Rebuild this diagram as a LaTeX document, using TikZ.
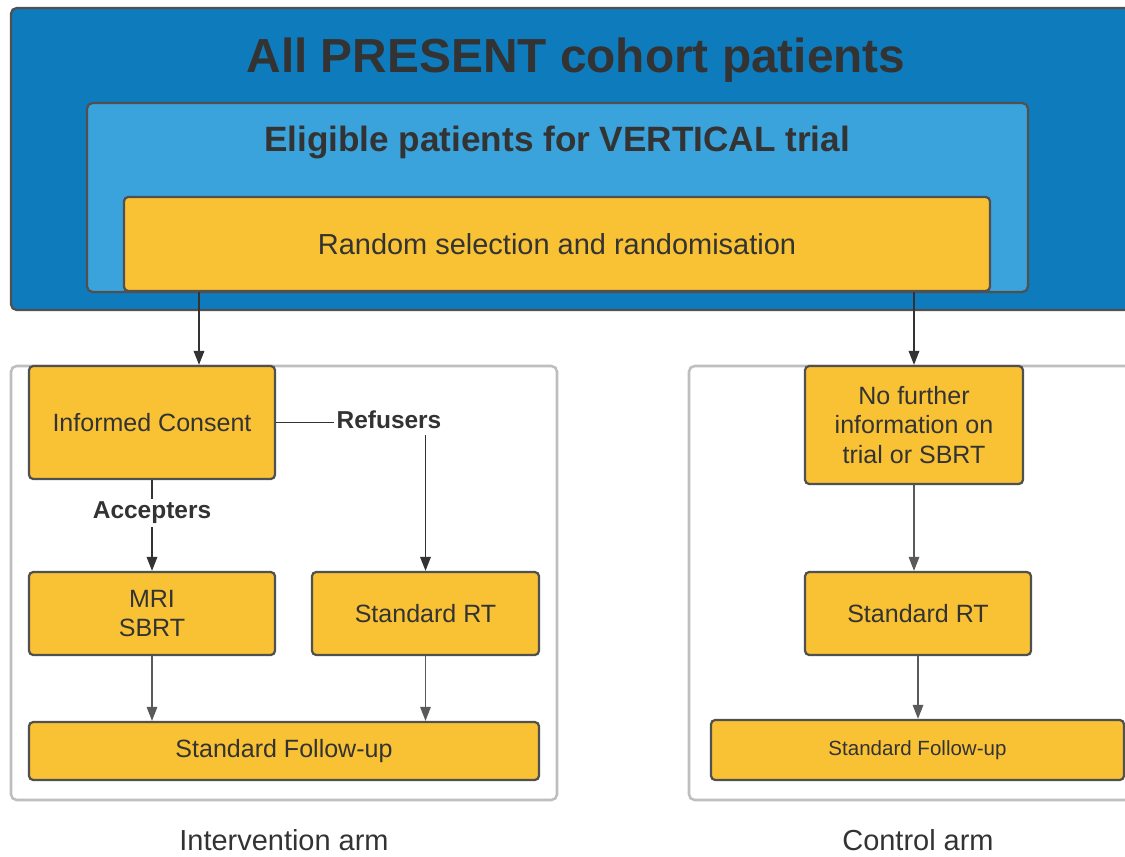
\documentclass[tikz,border=0pt]{standalone}
\usepackage{fontspec}
\setmainfont{Liberation Sans}
\usepackage{xcolor}
\usetikzlibrary{arrows.meta,positioning}

\definecolor{cohortblue}{RGB}{14,123,189}
\definecolor{eligblue}{RGB}{58,163,220}
\definecolor{boxyellow}{RGB}{249,194,52}
\definecolor{boxline}{RGB}{80,80,80}
\definecolor{armgray}{RGB}{190,190,190}
\definecolor{textgray}{RGB}{51,51,51}
\definecolor{arrowgray}{RGB}{90,90,90}

\begin{document}
\begin{tikzpicture}[x=0.025cm,y=-0.025cm,
	wh/.style 2 args={minimum width=#1*0.025cm,minimum height=#2*0.025cm},
	box/.style={draw=boxline,fill=boxyellow,line width=1.6pt,rounded corners=3pt,
		text=textgray,align=center,inner sep=0pt,font=\fontsize{17.8}{21}\selectfont},
	lbl/.style={text=textgray,font=\bfseries\fontsize{17.4}{21}\selectfont,inner sep=2pt},
	armlbl/.style={text=textgray,font=\fontsize{20.6}{24}\selectfont,inner sep=0pt},
	arm/.style={draw=armgray,line width=1.8pt,rounded corners=4pt},
	darr/.style={-{Triangle[length=10pt,width=7.5pt]},draw=textgray,line width=1.3pt},
	garr/.style={-{Triangle[length=10pt,width=7.5pt]},draw=arrowgray,line width=1.1pt}]
	\clip (0,0) rectangle (1125,856);
	
	% nested boxes on top
	\draw[fill=cohortblue,draw=boxline,line width=1.6pt,rounded corners=4pt] (11,8) rectangle (1145,310);
	\node[text=textgray,font=\bfseries\fontsize{34}{40}\selectfont] (cohort) at (576,60) {All PRESENT cohort patients};
	\draw[fill=eligblue,draw=boxline,line width=1.6pt,rounded corners=4pt] (87,103) rectangle (1028,292);
	\node[text=textgray,font=\bfseries\fontsize{25}{30}\selectfont] (elig) at (557,142) {Eligible patients for VERTICAL trial};
	\node[box,wh={866}{94},font=\fontsize{20.6}{24}\selectfont] (rand) at (557,244) {Random selection and randomisation};
	
	% the two arms
	\draw[arm] (11,366) rectangle (557,800);
	\draw[arm] (689,366) rectangle (1145,800);
	
	\node[box,wh={246}{113}] (consent) at (152,422.5) {Informed Consent};
	\node[box,wh={246}{83}] (mri) at (152,613.5) {MRI\\SBRT};
	\node[box,wh={227}{83}] (rtA) at (425.5,613.5) {Standard RT};
	\node[box,wh={510}{58}] (fuA) at (284,751) {Standard Follow-up};
	\node[lbl] (refusers) at (389,420) {Refusers};
	\node[lbl] (accepters) at (152,513) {Accepters};
	
	\node[box,wh={218}{118},font=\fontsize{17.8}{21}\selectfont] (nofurther) at (914,425) {No further\\information on\\trial or SBRT};
	\node[box,wh={226}{83}] (rtB) at (918,613.5) {Standard RT};
	\node[box,wh={413}{60},font=\fontsize{14.6}{17}\selectfont] (fuB) at (917.5,750) {Standard Follow-up};
	
	\node[armlbl] (intervention) at (284,840) {Intervention arm};
	\node[armlbl] (control) at (918,840) {Control arm};
	
	\coordinate (split) at (199,0);
	\draw[darr] (rand.south -| split) -- (consent.north -| split);
	\draw[darr] (rand.south -| nofurther) -- (nofurther.north);
	
	\draw[textgray,line width=1.3pt] (consent.east) -- (consent.east -| refusers.west);
	\draw[darr] ([yshift=-2pt]refusers.south -| rtA) -- (rtA.north);
	\draw[textgray,line width=1.3pt] (consent.south) -- (accepters.north);
	\draw[darr] (accepters.south) -- (mri.north);
	
	\draw[garr] (mri.south) -- (mri.south |- fuA.north);
	\draw[garr] (rtA.south) -- (rtA.south |- fuA.north);
	\draw[garr] (nofurther.south) -- (nofurther.south |- rtB.north);
	\draw[garr] (rtB.south) -- (rtB.south |- fuB.north);
\end{tikzpicture}
\end{document}
